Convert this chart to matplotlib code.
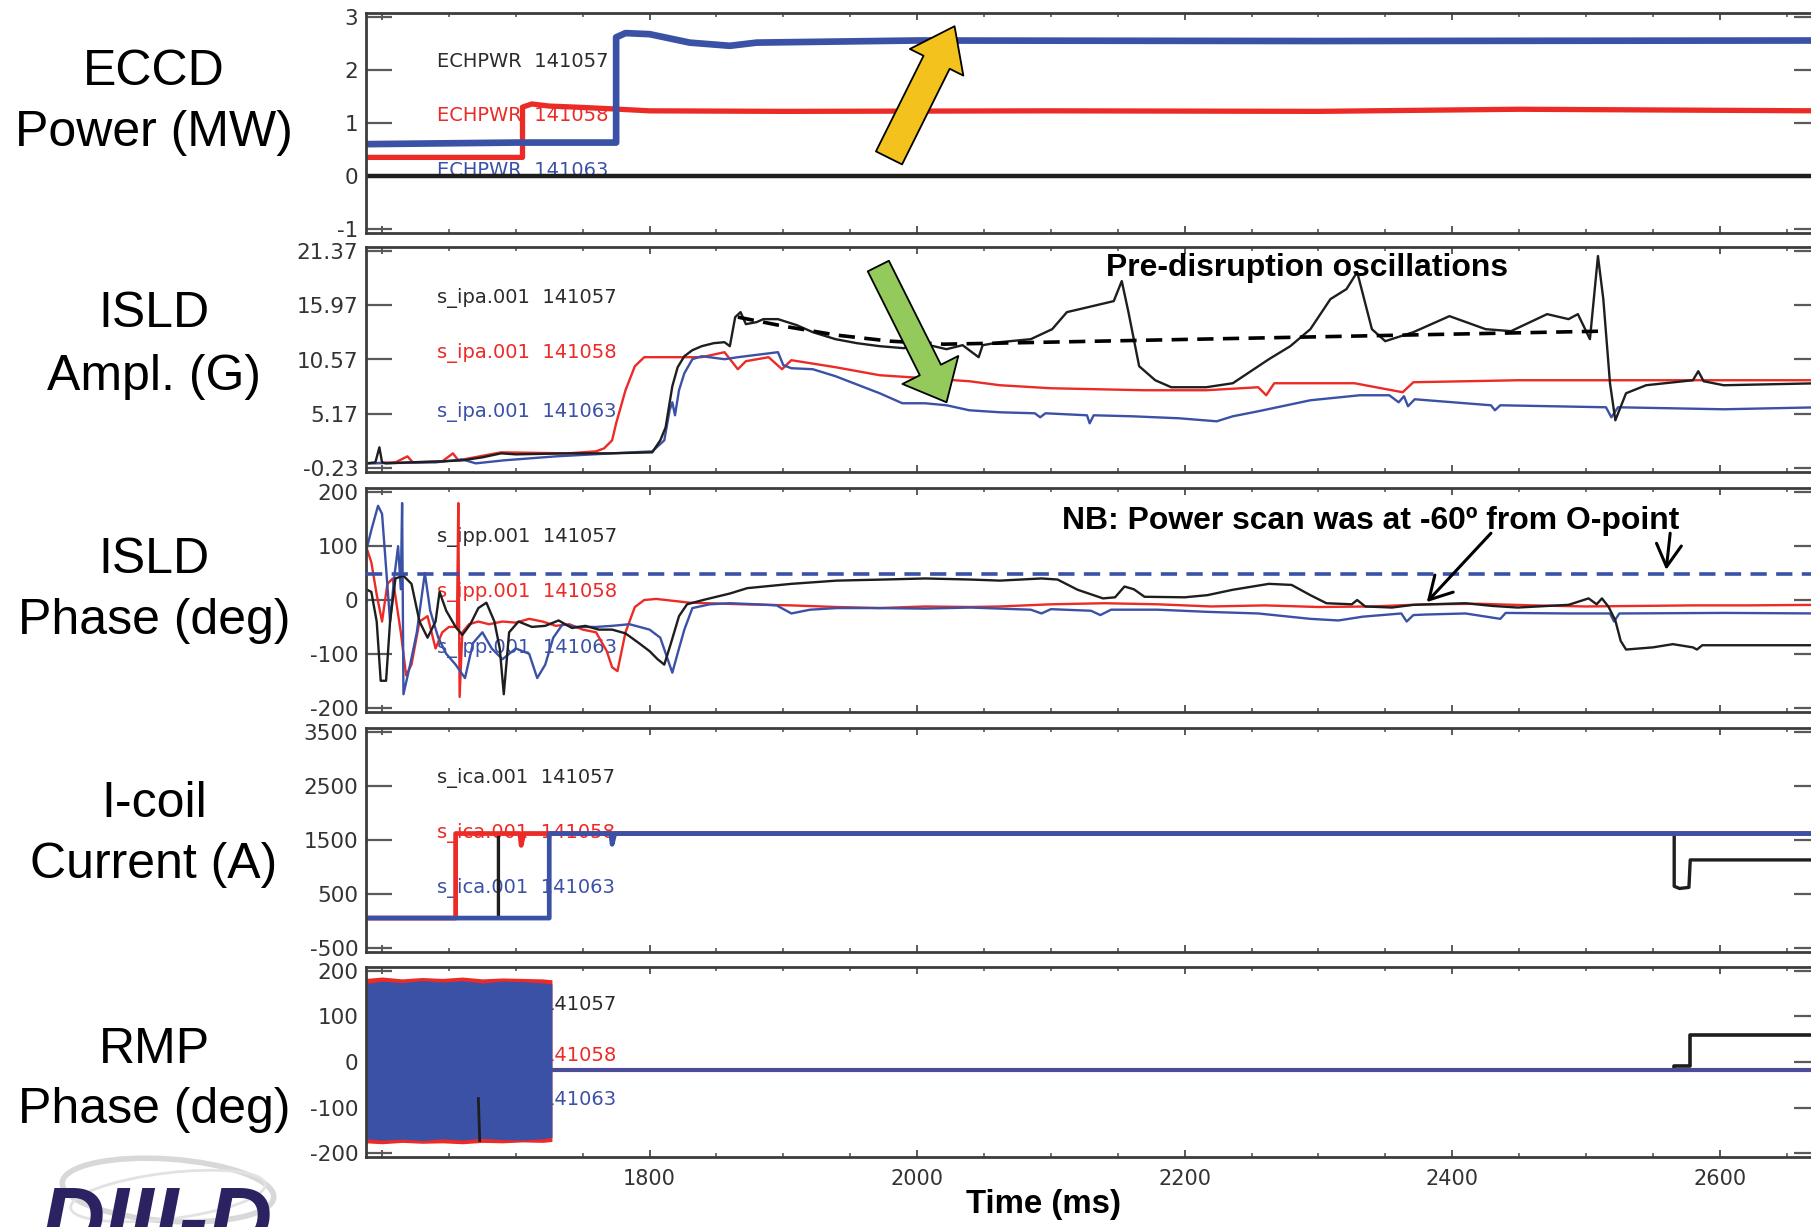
import matplotlib
matplotlib.use("Agg")
import matplotlib.pyplot as plt
from matplotlib import font_manager
from matplotlib.patches import FancyArrowPatch, ArrowStyle, Ellipse
from matplotlib.ticker import MultipleLocator

W, H, DPI = 1811, 1227, 100

BLACK = "#1e1e1e"
RED = "#ec2a26"
BLUE = "#3a51a6"
LABEL_BLACK = "#2b2b2b"

# time axis (ms)
t_lim = (1588, 2675)
t_major = [1600, 1800, 2000, 2200, 2400, 2600]
t_major_labels = ["", "1800", "2000", "2200", "2400", "2600"]

# ---- ECCD power (MW) ----
ech_057 = [(1588, 0.0), (2675, 0.0)]
ech_058 = [(1588, 0.35), (1705, 0.35), (1705, 1.30), (1712, 1.36), (1725, 1.32), (1745, 1.30),
           (1770, 1.27), (1800, 1.23), (1900, 1.22), (2100, 1.23), (2300, 1.22), (2450, 1.26),
           (2675, 1.23)]
ech_063 = [(1588, 0.60), (1700, 0.63), (1775, 0.63), (1775, 2.62), (1782, 2.70), (1800, 2.68),
           (1815, 2.60), (1830, 2.52), (1860, 2.46), (1880, 2.52), (2000, 2.56), (2300, 2.55),
           (2675, 2.56)]

# ---- ISLD amplitude (G) ----
ipa_057 = [(1588, 0.2), (1595, 0.3), (1598, 1.8), (1600, 0.3), (1603, 0.2), (1620, 0.3), (1645, 0.4),
           (1660, 0.5), (1675, 0.8), (1689, 1.2), (1700, 1.1), (1739, 1.2), (1770, 1.2), (1802, 1.3),
           (1808, 2.5), (1812, 3.8), (1817, 7.9), (1821, 9.8), (1826, 10.9), (1832, 11.5),
           (1839, 11.9), (1848, 12.2), (1856, 12.3), (1860, 11.9), (1864, 14.8), (1868, 15.3),
           (1872, 14.1), (1880, 14.3), (1885, 14.6), (1896, 14.6), (1910, 14.0), (1922, 13.3),
           (1939, 12.6), (1955, 12.2), (1972, 11.9), (1990, 11.7), (2006, 12.1), (2022, 11.6),
           (2034, 12.0), (2044, 11.0), (2046, 10.8), (2049, 12.0), (2062, 12.3), (2085, 12.6),
           (2101, 13.6), (2112, 15.3), (2128, 15.8), (2147, 16.4), (2153, 18.4), (2158, 15.3),
           (2166, 9.9), (2178, 8.5), (2190, 7.8), (2216, 7.8), (2236, 8.2), (2263, 10.6),
           (2279, 11.9), (2294, 13.6), (2309, 16.6), (2321, 17.6), (2329, 19.3), (2340, 13.6),
           (2350, 12.4), (2371, 13.3), (2398, 14.9), (2425, 13.6), (2444, 13.4), (2471, 15.1),
           (2487, 14.6), (2494, 15.1), (2503, 12.6), (2509, 20.9), (2513, 16.6), (2518, 8.2),
           (2522, 4.5), (2530, 7.2), (2545, 8.0), (2580, 8.5), (2584, 9.4), (2588, 8.4),
           (2603, 8.0), (2675, 8.2)]
ipa_058 = [(1588, 0.2), (1610, 0.3), (1619, 0.9), (1623, 0.3), (1645, 0.4), (1653, 1.2), (1657, 0.5),
           (1689, 1.3), (1739, 1.2), (1760, 1.4), (1766, 1.7), (1772, 2.5), (1775, 4.2),
           (1782, 7.5), (1789, 9.9), (1796, 10.8), (1839, 10.8), (1856, 11.3), (1866, 9.6),
           (1872, 10.4), (1889, 10.8), (1899, 9.6), (1906, 10.5), (1939, 9.8), (1972, 9.0),
           (2006, 8.7), (2039, 8.4), (2062, 8.0), (2100, 7.7), (2170, 7.5), (2216, 7.5),
           (2255, 7.8), (2261, 7.0), (2267, 8.2), (2327, 8.2), (2363, 7.3), (2371, 8.3),
           (2450, 8.5), (2553, 8.5), (2675, 8.5)]
ipa_063 = [(1588, 0.2), (1640, 0.3), (1660, 0.6), (1670, 0.2), (1691, 0.5), (1730, 0.9), (1772, 1.2),
           (1802, 1.4), (1811, 2.5), (1815, 5.5), (1817, 6.3), (1819, 5.0), (1822, 7.5),
           (1826, 9.2), (1832, 10.6), (1839, 10.9), (1856, 10.6), (1866, 10.8), (1884, 11.1),
           (1896, 11.3), (1900, 10.0), (1906, 9.7), (1922, 9.6), (1939, 8.9), (1972, 7.2),
           (1989, 6.2), (2006, 6.2), (2022, 6.0), (2039, 5.5), (2062, 5.3), (2088, 5.2),
           (2092, 4.8), (2096, 5.2), (2127, 5.0), (2129, 4.2), (2132, 5.0), (2161, 4.9),
           (2196, 4.7), (2224, 4.4), (2236, 4.9), (2255, 5.4), (2294, 6.5), (2331, 7.0),
           (2353, 7.0), (2360, 6.3), (2364, 6.9), (2367, 5.9), (2372, 6.6), (2429, 6.0),
           (2432, 5.5), (2436, 6.0), (2515, 5.8), (2519, 4.8), (2524, 5.8), (2603, 5.6),
           (2675, 5.8)]
# envelope of the pre-disruption oscillations
ipa_trend = [(1866, 14.8), (1900, 13.9), (1940, 13.0), (1980, 12.4), (2020, 12.1), (2060, 12.2),
             (2512, 13.4)]

# ---- ISLD phase (deg) ----
ipp_057 = [(1588, 20), (1592, 15), (1596, -40), (1599, -150), (1603, -150), (1606, -40), (1610, 40),
           (1616, 45), (1622, 30), (1628, -40), (1634, -70), (1640, -40), (1643, 15), (1648, -20),
           (1655, -50), (1660, -65), (1666, -45), (1672, -15), (1678, -5), (1684, -40), (1688, -90),
           (1691, -175), (1695, -60), (1702, -40), (1712, -50), (1722, -48), (1732, -38),
           (1742, -52), (1752, -48), (1762, -55), (1772, -55), (1782, -62), (1792, -80),
           (1800, -95), (1806, -110), (1811, -120), (1816, -80), (1822, -30), (1828, -8),
           (1840, 0), (1860, 12), (1873, 22), (1906, 30), (1940, 36), (1975, 38), (2006, 40),
           (2040, 38), (2062, 36), (2093, 40), (2105, 38), (2120, 19), (2139, 3), (2148, 5),
           (2155, 25), (2162, 20), (2170, 6), (2200, 5), (2217, 9), (2236, 19), (2263, 30),
           (2280, 28), (2294, 9), (2306, -6), (2325, -8), (2329, 0), (2335, -12), (2355, -14),
           (2371, -9), (2410, -6), (2430, -11), (2449, -14), (2487, -9), (2502, 3), (2508, -8),
           (2512, 3), (2517, -13), (2522, -38), (2526, -76), (2530, -92), (2550, -88),
           (2565, -82), (2580, -88), (2583, -92), (2587, -84), (2675, -84)]
ipp_058 = [(1588, 100), (1592, 70), (1596, 10), (1600, -40), (1604, 30), (1608, 40), (1614, -60),
           (1618, -140), (1622, -120), (1628, -40), (1634, -30), (1640, -90), (1645, -60),
           (1650, -50), (1656, -50), (1657, 180), (1658, -180), (1660, -60), (1665, -45),
           (1672, -40), (1680, -45), (1690, -40), (1700, -42), (1710, -35), (1720, -40),
           (1730, -48), (1740, -45), (1750, -55), (1760, -60), (1768, -95), (1772, -125),
           (1776, -132), (1782, -60), (1789, -13), (1796, 0), (1805, 2), (1830, -5), (1870, -8),
           (1906, -10), (1940, -13), (1972, -15), (2006, -12), (2040, -13), (2062, -12),
           (2100, -8), (2140, -6), (2180, -8), (2220, -12), (2260, -10), (2300, -13),
           (2340, -12), (2380, -8), (2420, -7), (2460, -10), (2500, -12), (2540, -11),
           (2580, -10), (2620, -10), (2675, -9)]
ipp_063 = [(1588, 90), (1592, 130), (1597, 175), (1600, 160), (1603, 60), (1606, -40), (1609, 40),
           (1612, 100), (1614, 20), (1615, 180), (1616, -175), (1621, -120), (1626, -60),
           (1632, 50), (1636, -20), (1642, -70), (1648, -100), (1655, -120), (1662, -145),
           (1668, -80), (1675, -60), (1682, -90), (1690, -110), (1700, -90), (1710, -100),
           (1716, -145), (1722, -120), (1728, -70), (1735, -45), (1745, -50), (1760, -50),
           (1772, -48), (1785, -45), (1800, -55), (1808, -70), (1817, -135), (1822, -90),
           (1826, -55), (1832, -15), (1845, -8), (1860, -6), (1880, -8), (1895, -10),
           (1906, -25), (1920, -18), (1940, -15), (1972, -15), (2006, -16), (2040, -14),
           (2062, -16), (2085, -18), (2093, -25), (2100, -17), (2130, -20), (2137, -28),
           (2145, -18), (2180, -18), (2217, -22), (2255, -25), (2294, -35), (2315, -38),
           (2333, -31), (2362, -25), (2366, -40), (2371, -28), (2380, -27), (2410, -25),
           (2436, -35), (2440, -24), (2487, -25), (2518, -25), (2521, -40), (2525, -25),
           (2604, -24), (2675, -25)]
ipp_target = 48  # power scan phase reference

# ---- I-coil current (A) ----
ica_057 = [(1588, 50), (1687, 50), (1687, 1620), (2566, 1620), (2566, 640), (2570, 600),
           (2577, 620), (2578, 1130), (2675, 1130)]
ica_058 = [(1588, 50), (1655, 50), (1655, 1620), (1703, 1620), (1704, 1400), (1706, 1620),
           (2675, 1620)]
ica_063 = [(1588, 50), (1725, 50), (1725, 1620), (1771, 1620), (1772, 1420), (1774, 1620),
           (2675, 1620)]

# ---- RMP phase (deg) ----
rmp_t = [1588, 1600, 1615, 1630, 1645, 1660, 1675, 1690, 1705, 1720, 1727]
rmp_top_058 = [183, 186, 182, 185, 183, 186, 182, 184, 183, 182, 180]
rmp_bot_058 = [-177, -179, -176, -178, -177, -179, -176, -177, -175, -176, -174]
rmp_top_063 = [172, 177, 174, 178, 175, 178, 173, 177, 176, 173, 171]
rmp_bot_063 = [-168, -171, -169, -172, -168, -171, -167, -170, -171, -168, -165]
rmp_057_burst = [(1672, -80), (1673, -172)]
rmp_057 = [(1725, -18), (2566, -18), (2566, -8), (2578, -8), (2578, 60), (2675, 60)]
rmp_058 = [(1724, -18), (2675, -18)]
rmp_063 = [(1727, -18), (2675, -18)]

# panel axes: ticks, tick labels, side titles
panel_ticks = [
    [-1, 0, 1, 2, 3],
    [-0.23, 5.17, 10.57, 15.97, 21.37],
    [-200, -100, 0, 100, 200],
    [-500, 500, 1500, 2500, 3500],
    [-200, -100, 0, 100, 200],
]
panel_tick_labels = [
    ["-1", "0", "1", "2", "3"],
    ["-0.23", "5.17", "10.57", "15.97", "21.37"],
    ["-200", "-100", "0", "100", "200"],
    ["-500", "500", "1500", "2500", "3500"],
    ["-200", "-100", "0", "100", "200"],
]
panel_titles = [("ECCD", "Power (MW)"), ("ISLD", "Ampl. (G)"), ("ISLD", "Phase (deg)"),
                ("I-coil", "Current (A)"), ("RMP", "Phase (deg)")]

installed = {f.name for f in font_manager.fontManager.ttflist}
if "Liberation Sans Narrow" in installed:
    NARROW, NSCALE = "Liberation Sans Narrow", 1.0
else:
    NARROW, NSCALE = "Liberation Sans", 0.82

plt.rcParams["font.family"] = ["Liberation Sans", "DejaVu Sans"]

fig = plt.figure(figsize=(W / DPI, H / DPI), dpi=DPI)
fig.patch.set_facecolor("white")

# pixel frames of the five stacked panels (right edge runs just past the canvas)
frames = [(13, 233), (247, 472), (488, 712), (728, 952), (967, 1157)]
LEFT, RIGHT = 366, 1820
title_baselines = [(85, 146), (327, 390), (573, 634), (817, 878), (1063, 1123)]

axes = []
for i, (top, bot) in enumerate(frames):
    ax = fig.add_axes([LEFT / W, 1 - bot / H, (RIGHT - LEFT) / W, (bot - top) / H])
    lo, hi = panel_ticks[i][0], panel_ticks[i][-1]
    pad = 0.02 * (hi - lo)
    ax.set_ylim(lo - pad, hi + pad)
    ax.set_xlim(*t_lim)
    ax.set_yticks(panel_ticks[i])
    ax.set_yticklabels(panel_tick_labels[i], family="DejaVu Sans", fontsize=15.5, color="#333333")
    ax.set_xticks(t_major)
    ax.xaxis.set_minor_locator(MultipleLocator(50))
    ax.tick_params(axis="y", which="major", direction="in", length=19, width=1.6,
                   color="#5a5a5a", left=True, right=True, pad=5.5)
    ax.tick_params(axis="x", which="major", direction="in", length=5, width=1.4,
                   color="#5a5a5a", top=True, bottom=True, pad=8.5)
    ax.tick_params(axis="x", which="minor", direction="in", length=3, width=1.2,
                   color="#5a5a5a", top=True, bottom=True)
    if i == len(frames) - 1:
        ax.set_xticklabels(t_major_labels, family="DejaVu Sans", fontsize=15, color="#333333")
    else:
        ax.set_xticklabels([])
    for s in ax.spines.values():
        s.set_color("#3c3c3c")
        s.set_linewidth(2)
    for line, base in zip(panel_titles[i], title_baselines[i]):
        fig.text(154 / W, 1 - base / H, line, ha="center", va="baseline", fontsize=36,
                 color="black")
    axes.append(ax)


def trace(ax, pts, color, lw, **kw):
    t, v = zip(*pts)
    ax.plot(t, v, color=color, lw=lw, zorder=kw.pop("zorder", 2), **kw)


def tag(ax, y, s, color, x=1641):
    ax.text(x, y, s, color=color, fontsize=14, family="DejaVu Sans", va="center",
            ha="left", zorder=1.5)


# ECCD power
ax = axes[0]
tag(ax, 2.16, "ECHPWR  141057", LABEL_BLACK)
tag(ax, 1.15, "ECHPWR  141058", RED)
tag(ax, 0.11, "ECHPWR  141063", BLUE)
trace(ax, ech_057, BLACK, 3.2)
trace(ax, ech_058, RED, 3.8)
trace(ax, ech_063, BLUE, 4.8)
ax.add_patch(FancyArrowPatch((1979, 0.34), (2028, 2.83),
             arrowstyle=ArrowStyle.Simple(head_length=29, head_width=43, tail_width=21),
             mutation_scale=1, shrinkA=0, shrinkB=0, fc="#f4c21c", ec="black", lw=1.3,
             zorder=5))

# ISLD amplitude
ax = axes[1]
tag(ax, 16.7, "s_ipa.001  141057", LABEL_BLACK)
tag(ax, 11.2, "s_ipa.001  141058", RED)
tag(ax, 5.3, "s_ipa.001  141063", BLUE)
trace(ax, ipa_058, RED, 1.7)
trace(ax, ipa_063, BLUE, 1.7)
trace(ax, ipa_057, BLACK, 1.7)
trace(ax, ipa_trend, "black", 2.6, dashes=(4.5, 2.6), zorder=3)
ax.add_patch(FancyArrowPatch((1971, 19.9), (2022, 6.3),
             arrowstyle=ArrowStyle.Simple(head_length=26, head_width=45, tail_width=17),
             mutation_scale=1, shrinkA=0, shrinkB=0, fc="#94c95c", ec="black", lw=1.3,
             zorder=5))
ax.text(2141, 18.9, "Pre-disruption oscillations", family=NARROW, fontweight="bold",
        fontsize=28 * NSCALE, ha="left", va="baseline", color="black", zorder=6)

# ISLD phase
ax = axes[2]
tag(ax, 117, "s_ipp.001  141057", LABEL_BLACK)
tag(ax, 15, "s_ipp.001  141058", RED)
tag(ax, -89, "s_ipp.001  141063", BLUE)
trace(ax, ipp_058, RED, 1.7)
trace(ax, ipp_063, BLUE, 1.7)
trace(ax, ipp_057, BLACK, 1.7)
ax.axhline(ipp_target, color=BLUE, lw=2.6, dashes=(4.5, 2.6), zorder=3)
ax.text(2108, 132, "NB: Power scan was at -60º from O-point", family=NARROW,
        fontweight="bold", fontsize=28 * NSCALE, ha="left", va="baseline", color="black",
        zorder=6)
for tail, tip in [((2429, 124), (2381, -4)), ((2563, 124), (2560, 56))]:
    ax.add_patch(FancyArrowPatch(tail, tip, arrowstyle="->,head_length=0.8,head_width=0.45",
                 mutation_scale=20, shrinkA=0, shrinkB=0, color="black", lw=2.2, zorder=5))

# I-coil current
ax = axes[3]
tag(ax, 2650, "s_ica.001  141057", LABEL_BLACK)
tag(ax, 1630, "s_ica.001  141058", RED)
tag(ax, 610, "s_ica.001  141063", BLUE)
trace(ax, ica_057, BLACK, 2.4)
trace(ax, ica_058, RED, 3.4)
trace(ax, ica_063, BLUE, 3.4)

# RMP phase
ax = axes[4]
tag(ax, 125, "141057", LABEL_BLACK, x=1720)
tag(ax, 15, "141058", RED, x=1720)
tag(ax, -83, "141063", BLUE, x=1720)
ax.fill_between(rmp_t, rmp_bot_058, rmp_top_058, color=RED, lw=0, zorder=2.1)
ax.fill_between(rmp_t, rmp_bot_063, rmp_top_063, color=BLUE, lw=0, zorder=2.2)
trace(ax, rmp_057_burst, BLACK, 2.0, zorder=2.3)
trace(ax, rmp_057, BLACK, 2.6)
trace(ax, rmp_058, RED, 3.0)
trace(ax, rmp_063, BLUE, 2.6)

fig.text(1043 / W, 1 - 1213 / H, "Time (ms)", family=NARROW, fontweight="bold",
         fontsize=29 * NSCALE, ha="center", va="baseline", color="black")

# DIII-D badge in the lower-left corner, running off the bottom edge
ov = fig.add_axes([0, 0, 1, 1])
ov.set_xlim(0, W)
ov.set_ylim(H, 0)
ov.axis("off")
ov.add_patch(Ellipse((168, 1190), 212, 62, angle=4, fill=False, ec="#d8d8d8", lw=4))
ov.add_patch(Ellipse((168, 1196), 196, 46, angle=-7, fill=False, ec="#e2e2e2", lw=2))
fig.text(40 / W, 1 - 1249 / H, "DIII-D", fontsize=64, fontweight="bold", style="italic",
         color="#2b2262", ha="left", va="baseline")

fig.savefig("out.png", dpi=DPI, facecolor="white")
